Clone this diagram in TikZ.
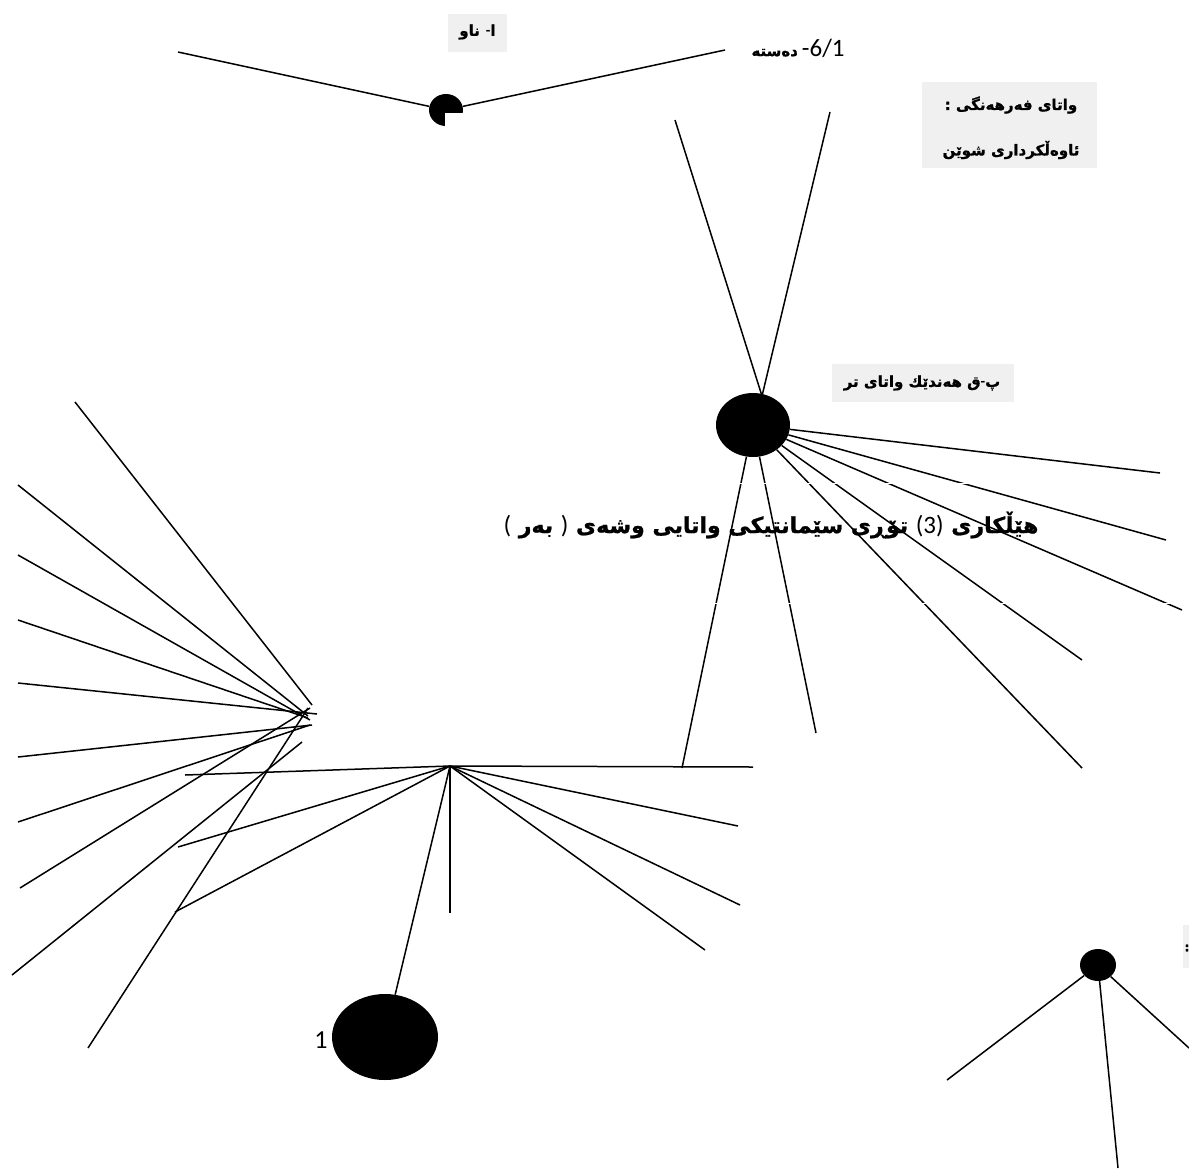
\documentclass[tikz,border=0pt]{standalone}
\usepackage{fontspec}
\setmainfont{Carlito}
\newfontfamily\carl{Carlito}
\newfontfamily\kurd[Script=Arabic,BoldFeatures={FakeBold=1}]{DejaVu Sans}
\TeXXeTstate=1
\usetikzlibrary{shapes.geometric}
\definecolor{boxgray}{HTML}{F0F0F0}
\begin{document}
\begin{tikzpicture}[x=1pt,y=-1pt,
  spoke/.style={line width=1.5pt, black},
  hub/.style={ellipse, fill=black, draw=none, inner sep=0pt},
  box/.style={fill=boxgray, draw=none, inner sep=0pt},
  txt/.style={inner sep=0pt},
  ar/.style={inner sep=0pt, font=\kurd\bfseries\fontsize{15}{18}\selectfont},
  gap/.style={white, line width=0.8pt}
]
\useasboundingbox[fill=white] (0,0) rectangle (1189,1171);

% ---------- labels ----------
\node[box, minimum width=59pt, minimum height=38pt] (naw) at (477.5,33) {};
\node[ar] (nawt) at (477.5,32) {\beginR ا{\carl\bfseries -}\hspace{6pt}ناو\endR};
\node[txt] (dasta) at (798,48)
  {\beginR{\carl\fontsize{25}{28}\selectfont -6/1}\hspace{4pt}{\kurd\bfseries\fontsize{15}{18}\selectfont دەستە}\endR};
\node[box, minimum width=175pt, minimum height=86pt] (wf) at (1009.5,125) {};
\node[ar] (wf1) at (1011,105) {\beginR واتای فەرهەنگی :\endR};
\node[ar] (wf2) at (1011,150) {\beginR ئاوەڵکرداری شوێن\endR};
\node[box, minimum width=182pt, minimum height=38pt] (pq) at (923,383) {};
\node[ar] (pqt) at (922,383) {\beginR پ{\carl\bfseries -}ق هەندێك واتای تر\endR};
\node[txt] (title) at (771,525)
  {\kurd\bfseries\fontsize{22}{26}\selectfont\beginR هێڵکاری {\carl\mdseries\fontsize{25}{28}\selectfont (3)} تۆڕی سێمانتیکی واتایی وشەی {\carl\mdseries\fontsize{25}{28}\selectfont )} بەر {\carl\mdseries\fontsize{25}{28}\selectfont (}\endR};
\node[txt] (one) at (321,1040) {\carl\fontsize{26}{30}\selectfont 1};
\fill[boxgray] (1183,925) rectangle (1189,968);
\node[txt] (colon) at (1187,948) {\kurd\bfseries\fontsize{12}{14}\selectfont :};

% ---------- hubs ----------
\node[hub, minimum width=34pt, minimum height=32pt] (pac) at (446,110) {};
\fill[white] (445,113) rectangle (466,128);
\node[hub, minimum width=74pt, minimum height=64pt] (H) at (753,425) {};
\node[hub, minimum width=106pt, minimum height=86pt] (E1) at (385,1037) {};
\node[hub, minimum width=36pt, minimum height=32pt] (E2) at (1098,965) {};
\coordinate (Htop) at (762,396);
\coordinate (C) at (450,766);

% ---------- top pacman ----------
\coordinate (t1) at (178,52);
\coordinate (t2) at (725,50);
\draw[spoke] (pac) -- (t1);
\draw[spoke] (pac) -- (t2);

% ---------- main hub H ----------
\coordinate (u1) at (675,120);
\coordinate (u2) at (830,112);
\draw[spoke] (Htop) -- (u1);
\draw[spoke] (Htop) -- (u2);
\foreach \n/\px/\py in {r1/1160/473, r2/1166/540, r3/1182/610, r4/1082/660,
                        r5/1082/768, d1/816/733, d2/682/768}{
  \coordinate (\n) at (\px,\py);
  \draw[spoke] (H) -- (\n);
}

% ---------- central hub C ----------
\foreach \n/\px/\py in {c1/185/775, c2/178/847, c3/175/912, c4/450/913,
                        c5/753/767, c6/738/826, c7/740/905, c8/705/950}{
  \coordinate (\n) at (\px,\py);
  \draw[spoke] (C) -- (\n);
}
\draw[spoke] (C) -- (E1);

% ---------- left fan ----------
\foreach \n/\ax/\ay/\bx/\by in {
   1/75/402/312/705, 2/18/485/308/716, 3/18/555/310/720, 4/18/620/308/718,
   5/18/683/317/714, 6/18/757/312/725, 7/18/822/310/725, 8/20/888/310/708,
   9/12/975/302/742, 10/88/1048/308/708}{
  \coordinate (la\n) at (\ax,\ay);
  \coordinate (lb\n) at (\bx,\by);
  \draw[spoke] (la\n) -- (lb\n);
}

% ---------- small circle E2 ----------
\foreach \n/\px/\py in {s1/947/1080, s2/1118/1168, s3/1189/1048}{
  \coordinate (\n) at (\px,\py);
  \draw[spoke] (E2) -- (\n);
}

% ---------- white gaps across lines ----------
\draw[gap] (690,483) -- (1189,483);
\draw[gap] (690,603) -- (1189,603);
\end{tikzpicture}
\end{document}
